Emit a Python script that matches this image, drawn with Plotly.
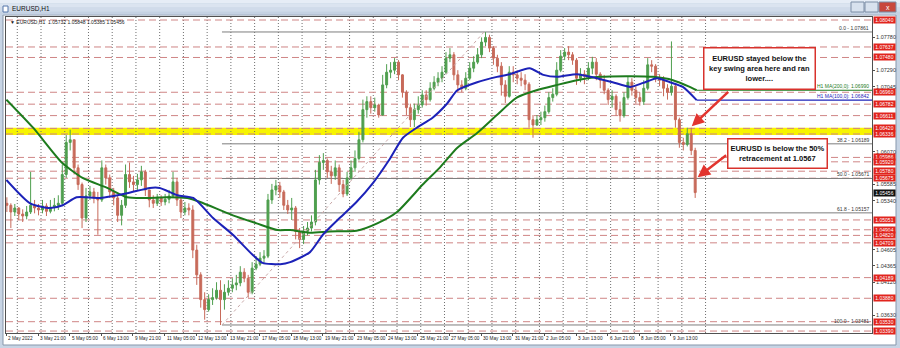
import plotly.graph_objects as go

# ---------------- data ----------------
window_title = "EURUSD,H1"
chart_caption = "\u25bc EURUSD,H1  1.05732 1.05848 1.05385 1.05456"

first_block_bar = 12      # trading-hour index (from 2 May 2022 00:00) of first candle block
block_len = 4             # each drawn candle aggregates 4 H1 bars
first_open = 1.0530

closes = [
    1.0527, 1.0517, 1.0523, 1.0514, 1.0511, 1.0517, 1.0527, 1.0523, 1.0520, 1.0526,
    1.0518, 1.0524, 1.0527, 1.0530, 1.0573, 1.0621, 1.0625, 1.0583, 1.0558, 1.0508,
    1.0541, 1.0547, 1.0538, 1.0535, 1.0583, 1.0568, 1.0547, 1.0538, 1.0512, 1.0527,
    1.0573, 1.0562, 1.0558, 1.0565, 1.0577, 1.0550, 1.0535, 1.0530, 1.0538, 1.0532,
    1.0536, 1.0541, 1.0562, 1.0535, 1.0517, 1.0523, 1.0520, 1.0460, 1.0423, 1.0386,
    1.0371, 1.0386, 1.0389, 1.0400, 1.0386, 1.0397, 1.0403, 1.0408, 1.0411, 1.0427,
    1.0418, 1.0397, 1.0433, 1.0439, 1.0448, 1.0451, 1.0535, 1.0550, 1.0556, 1.0547,
    1.0527, 1.0520, 1.0523, 1.0488, 1.0476, 1.0488, 1.0493, 1.0502, 1.0565, 1.0591,
    1.0594, 1.0577, 1.0571, 1.0583, 1.0558, 1.0544, 1.0568, 1.0583, 1.0597, 1.0625,
    1.0670, 1.0682, 1.0673, 1.0677, 1.0662, 1.0707, 1.0726, 1.0729, 1.0741, 1.0722,
    1.0696, 1.0673, 1.0655, 1.0670, 1.0677, 1.0692, 1.0685, 1.0702, 1.0711, 1.0717,
    1.0726, 1.0747, 1.0752, 1.0722, 1.0707, 1.0702, 1.0717, 1.0732, 1.0741, 1.0752,
    1.0771, 1.0778, 1.0762, 1.0747, 1.0735, 1.0707, 1.0690, 1.0726, 1.0722, 1.0717,
    1.0714, 1.0708, 1.0655, 1.0647, 1.0655, 1.0658, 1.0667, 1.0688, 1.0693, 1.0729,
    1.0750, 1.0756, 1.0752, 1.0744, 1.0717, 1.0723, 1.0720, 1.0732, 1.0741, 1.0723,
    1.0714, 1.0699, 1.0685, 1.0690, 1.0670, 1.0661, 1.0688, 1.0711, 1.0699, 1.0688,
    1.0682, 1.0702, 1.0737, 1.0735, 1.0717, 1.0714, 1.0702, 1.0696, 1.0705, 1.0655,
    1.0621, 1.0618, 1.0634, 1.0609, 1.0546,
]
highs = [
    1.0539, 1.0530, 1.0529, 1.0524, 1.0521, 1.0526, 1.0577, 1.0535, 1.0529, 1.0535,
    1.0530, 1.0535, 1.0538, 1.0542, 1.0588, 1.0632, 1.0640, 1.0625, 1.0588, 1.0561,
    1.0553, 1.0556, 1.0553, 1.0547, 1.0594, 1.0588, 1.0573, 1.0553, 1.0541, 1.0535,
    1.0588, 1.0591, 1.0571, 1.0574, 1.0586, 1.0580, 1.0550, 1.0542, 1.0544, 1.0542,
    1.0544, 1.0550, 1.0577, 1.0568, 1.0538, 1.0532, 1.0530, 1.0527, 1.0468, 1.0427,
    1.0397, 1.0394, 1.0403, 1.0412, 1.0415, 1.0409, 1.0415, 1.0418, 1.0423, 1.0436,
    1.0433, 1.0423, 1.0442, 1.0451, 1.0457, 1.0460, 1.0544, 1.0559, 1.0565, 1.0562,
    1.0550, 1.0535, 1.0538, 1.0526, 1.0493, 1.0496, 1.0502, 1.0512, 1.0580, 1.0602,
    1.0605, 1.0597, 1.0586, 1.0594, 1.0588, 1.0565, 1.0577, 1.0594, 1.0609, 1.0637,
    1.0685, 1.0690, 1.0690, 1.0688, 1.0679, 1.0722, 1.0738, 1.0741, 1.0747, 1.0744,
    1.0723, 1.0699, 1.0679, 1.0679, 1.0690, 1.0699, 1.0699, 1.0711, 1.0720, 1.0726,
    1.0735, 1.0756, 1.0762, 1.0756, 1.0729, 1.0714, 1.0726, 1.0741, 1.0750, 1.0762,
    1.0778, 1.0786, 1.0782, 1.0765, 1.0752, 1.0741, 1.0714, 1.0735, 1.0735, 1.0729,
    1.0726, 1.0723, 1.0711, 1.0662, 1.0662, 1.0667, 1.0676, 1.0696, 1.0702, 1.0741,
    1.0759, 1.0762, 1.0765, 1.0756, 1.0747, 1.0732, 1.0729, 1.0741, 1.0749, 1.0747,
    1.0726, 1.0722, 1.0702, 1.0699, 1.0693, 1.0682, 1.0696, 1.0720, 1.0717, 1.0705,
    1.0696, 1.0714, 1.0747, 1.0744, 1.0738, 1.0723, 1.0720, 1.0708, 1.0772, 1.0708,
    1.0658, 1.0628, 1.0643, 1.0643, 1.0613,
]
lows = [
    1.0517, 1.0493, 1.0511, 1.0505, 1.0502, 1.0506, 1.0514, 1.0515, 1.0512, 1.0515,
    1.0511, 1.0515, 1.0518, 1.0520, 1.0526, 1.0568, 1.0609, 1.0573, 1.0550, 1.0493,
    1.0502, 1.0535, 1.0530, 1.0483, 1.0532, 1.0558, 1.0538, 1.0527, 1.0502, 1.0497,
    1.0523, 1.0553, 1.0547, 1.0550, 1.0556, 1.0541, 1.0524, 1.0523, 1.0526, 1.0526,
    1.0527, 1.0530, 1.0538, 1.0526, 1.0508, 1.0512, 1.0512, 1.0448, 1.0408, 1.0374,
    1.0356, 1.0368, 1.0378, 1.0386, 1.0348, 1.0371, 1.0392, 1.0397, 1.0400, 1.0406,
    1.0412, 1.0389, 1.0394, 1.0430, 1.0436, 1.0442, 1.0448, 1.0529, 1.0542, 1.0538,
    1.0520, 1.0514, 1.0505, 1.0476, 1.0463, 1.0469, 1.0482, 1.0488, 1.0497, 1.0558,
    1.0580, 1.0568, 1.0559, 1.0565, 1.0547, 1.0539, 1.0541, 1.0565, 1.0577, 1.0594,
    1.0621, 1.0658, 1.0664, 1.0667, 1.0658, 1.0661, 1.0702, 1.0717, 1.0723, 1.0714,
    1.0688, 1.0662, 1.0644, 1.0644, 1.0664, 1.0673, 1.0676, 1.0682, 1.0699, 1.0705,
    1.0711, 1.0723, 1.0741, 1.0714, 1.0696, 1.0696, 1.0699, 1.0714, 1.0726, 1.0738,
    1.0747, 1.0765, 1.0756, 1.0737, 1.0726, 1.0691, 1.0680, 1.0688, 1.0711, 1.0708,
    1.0705, 1.0699, 1.0643, 1.0628, 1.0646, 1.0647, 1.0652, 1.0664, 1.0682, 1.0690,
    1.0726, 1.0744, 1.0744, 1.0737, 1.0707, 1.0711, 1.0708, 1.0714, 1.0723, 1.0714,
    1.0702, 1.0693, 1.0677, 1.0673, 1.0661, 1.0652, 1.0658, 1.0685, 1.0691, 1.0679,
    1.0676, 1.0677, 1.0699, 1.0726, 1.0711, 1.0705, 1.0690, 1.0685, 1.0691, 1.0643,
    1.0613, 1.0609, 1.0615, 1.0602, 1.0538,
]

ma100_bars = [13, 37, 57, 70, 84, 108, 135, 158, 168, 186, 202, 222, 242, 262, 272,
              290, 300, 320, 333, 350, 367, 384, 401, 414, 428, 444, 458, 469, 489, 509,
              522, 542, 556, 570, 590, 610, 626, 644, 657, 671, 684, 697, 711]
ma100_vals = [1.0565, 1.0530, 1.0523, 1.0527, 1.0539, 1.0538, 1.0545, 1.0553, 1.0553, 1.0542,
              1.0538, 1.0508, 1.0483, 1.0453, 1.0441, 1.0439, 1.0442, 1.0457, 1.0483, 1.0508,
              1.0532, 1.0561, 1.0597, 1.0628, 1.0643, 1.0658, 1.0678, 1.0699, 1.0711, 1.0719,
              1.0723, 1.0732, 1.0722, 1.0719, 1.0723, 1.0717, 1.0711, 1.0704, 1.0710, 1.0717,
              1.0711, 1.0704, 1.06842]
ma200_bars = [13, 40, 69, 90, 115, 135, 158, 175, 196, 209, 242, 266, 287, 300, 320,
              340, 367, 388, 408, 434, 451, 469, 489, 509, 529, 549, 570, 590, 613, 644,
              667, 687, 704, 711]
ma200_vals = [1.0685, 1.0643, 1.0591, 1.0568, 1.0553, 1.0539, 1.0538, 1.0539, 1.0538, 1.0532,
              1.0512, 1.0500, 1.0490, 1.0490, 1.0486, 1.0488, 1.0489, 1.0500, 1.0517, 1.0558,
              1.0583, 1.0613, 1.0635, 1.0662, 1.0688, 1.0699, 1.0707, 1.0714, 1.0719, 1.0720,
              1.0719, 1.0714, 1.0704, 1.06990]
ma100_label = "H1 MA(100,0): 1.06842"
ma200_label = "H1 MA(200,0): 1.06990"

level_prices = [1.08040, 1.07637, 1.07480, 1.06960, 1.06782, 1.06611, 1.06420, 1.06336,
                1.05986, 1.05920, 1.05780, 1.05675, 1.05051, 1.04904, 1.04820, 1.04709,
                1.04189, 1.03880, 1.03530, 1.03390]
current_price = 1.05456
swing_zone = [1.06320, 1.06430]

fib_pcts = ["0.0", "38.2", "50.0", "61.8", "100.0"]
fib_prices = [1.07861, 1.06189, 1.05671, 1.05157, 1.03481]
fib_low_bar = 231
fib_high_bar = 496

# price-scale labels that are visible (the rest sit under the red level tags)
price_ticks = [1.07780, 1.07290, 1.07045, 1.06070, 1.05585, 1.05340, 1.04605, 1.04365,
               1.04120, 1.03630]

time_labels = ["2 May 2022", "3 May 21:00", "5 May 05:00", "6 May 13:00", "9 May 21:00",
               "11 May 05:00", "12 May 13:00", "13 May 21:00", "17 May 05:00", "18 May 13:00",
               "19 May 21:00", "23 May 05:00", "24 May 13:00", "25 May 21:00", "27 May 05:00",
               "30 May 13:00", "31 May 21:00", "2 Jun 05:00", "3 Jun 13:00", "6 Jun 21:00",
               "8 Jun 05:00", "9 Jun 13:00"]
time_label_bars = [13, 45, 77, 109, 141, 173, 205, 237, 269, 301, 333, 365, 397, 429, 461,
                   493, 525, 557, 589, 621, 653, 685]
day_separator_bars = [24 * d for d in range(1, 31)]

callout_1 = "EURUSD stayed below the<br>key swing area here and ran<br>lower...."
callout_2 = "EURUSD is below the 50%<br>retracement at 1.0567"

# ---------------- geometry / style ----------------
W, H = 900, 348
PL, PR, PT, PB = 6, 872, 17, 333          # plot box in pixels
X_MIN, X_MAX = 12.6, 888.3
Y_MIN, Y_MAX = 1.03361, 1.08085
FONT = "Liberation Sans, Arial, sans-serif"
UP, DN = "#4f9f4f", "#c76a5a"
LEVEL_CLR = "#cf8585"
FRAME = "#c7d4e4"


def pxp(x):
    return (x - PL) / (PR - PL)


def pyp(y):
    return (PB - y) / (PB - PT)


cx = [first_block_bar + block_len * i + (block_len - 1) / 2 for i in range(len(closes))]
opens = [first_open] + closes[:-1]

fig = go.Figure()

fig.add_trace(go.Candlestick(
    x=cx, open=opens, high=highs, low=lows, close=closes,
    increasing=dict(line=dict(color=UP, width=1), fillcolor=UP),
    decreasing=dict(line=dict(color=DN, width=1), fillcolor=DN),
    whiskerwidth=0, hoverinfo="skip"))

# fib diagonal
fig.add_trace(go.Scatter(x=[fib_low_bar, fib_high_bar], y=[fib_prices[-1], fib_prices[0]],
                         mode="lines", line=dict(color="#c9a9a9", width=1, dash="dot"),
                         hoverinfo="skip"))

fig.add_trace(go.Scatter(x=ma200_bars, y=ma200_vals, mode="lines",
                         line=dict(color="#1d7b1d", width=2, shape="spline", smoothing=0.6),
                         hoverinfo="skip"))
fig.add_trace(go.Scatter(x=ma100_bars, y=ma100_vals, mode="lines",
                         line=dict(color="#1c22b8", width=2, shape="spline", smoothing=0.6),
                         hoverinfo="skip"))
fig.add_trace(go.Scatter(x=[ma200_bars[-1], X_MAX], y=[ma200_vals[-1], ma200_vals[-1]],
                         mode="lines", line=dict(color="#1d7b1d", width=1.2), hoverinfo="skip"))
fig.add_trace(go.Scatter(x=[ma100_bars[-1], X_MAX], y=[ma100_vals[-1], ma100_vals[-1]],
                         mode="lines", line=dict(color="#1c22b8", width=1.2), hoverinfo="skip"))

shapes = []
# window frame
shapes.append(dict(type="rect", xref="paper", yref="paper", x0=pxp(3), x1=pxp(896),
                   y0=pyp(345), y1=pyp(15), fillcolor="white", line=dict(color="#8797ab", width=1),
                   layer="below"))
title_cols = ["#e6edf6", "#dbe4f0", "#d0dbea", "#c5d2e3"]
for k, c in enumerate(title_cols):
    shapes.append(dict(type="rect", xref="paper", yref="paper", x0=pxp(0), x1=pxp(900),
                       y0=pyp(4 * (k + 1) - 0.5 if k < 3 else 14.5), y1=pyp(4 * k),
                       fillcolor=c, line=dict(width=0), layer="below"))
# icon + window buttons
shapes.append(dict(type="rect", xref="paper", yref="paper", x0=pxp(3), x1=pxp(8),
                   y0=pyp(12), y1=pyp(6), fillcolor="white", line=dict(color="#5577aa", width=1)))
for (a, b, col) in [(851, 864, "#d8e2ee"), (865, 878, "#d8e2ee"), (879, 896, "#c8473c")]:
    shapes.append(dict(type="rect", xref="paper", yref="paper", x0=pxp(a), x1=pxp(b),
                       y0=pyp(12), y1=pyp(2), fillcolor=col, line=dict(color="#7d8ea6", width=1)))

# yellow swing zone
shapes.append(dict(type="rect", xref="paper", yref="y", x0=0, x1=1,
                   y0=swing_zone[0], y1=swing_zone[1], fillcolor="#f7f400",
                   line=dict(width=0), layer="below"))
# day separators
for b in day_separator_bars:
    shapes.append(dict(type="line", xref="x", yref="paper", x0=b, x1=b, y0=0, y1=1,
                       line=dict(color="#6f6f6f", width=1, dash="1px,2px"), layer="below"))
# horizontal levels
for p in level_prices:
    shapes.append(dict(type="line", xref="paper", yref="y", x0=0, x1=1, y0=p, y1=p,
                       line=dict(color=LEVEL_CLR, width=1, dash="7px,4px"), layer="below"))
# fibonacci levels
for p in fib_prices:
    shapes.append(dict(type="line", xref="x", yref="y", x0=fib_low_bar, x1=X_MAX, y0=p, y1=p,
                       line=dict(color="#7d7d7d", width=1), layer="below"))

ann = []
ann.append(dict(text=window_title, xref="paper", yref="paper", x=pxp(10), y=pyp(8),
                xanchor="left", yanchor="middle", showarrow=False,
                font=dict(family=FONT, size=6.5, color="#111")))
ann.append(dict(text="x", xref="paper", yref="paper", x=pxp(887.5), y=pyp(7),
                xanchor="center", yanchor="middle", showarrow=False,
                font=dict(family=FONT, size=7, color="white")))
ann.append(dict(text=chart_caption, xref="paper", yref="paper", x=pxp(8), y=pyp(22),
                xanchor="left", yanchor="middle", showarrow=False,
                font=dict(family=FONT, size=5, color="#222")))

for t, b in zip(time_labels, time_label_bars):
    ann.append(dict(text=t, xref="x", yref="paper", x=b, y=0, xanchor="left", yanchor="top",
                    yshift=-1, showarrow=False, font=dict(family=FONT, size=4.7, color="#222")))

for p in level_prices:
    ann.append(dict(text=f"{p:.5f}", xref="paper", yref="y", x=1, y=p, xanchor="left",
                    yanchor="middle", xshift=1, showarrow=False, bgcolor="#e1241d",
                    width=21, height=6, borderpad=0,
                    font=dict(family=FONT, size=5, color="white")))
ann.append(dict(text=f"{current_price:.5f}", xref="paper", yref="y", x=1, y=current_price,
                xanchor="left", yanchor="middle", xshift=1, showarrow=False, bgcolor="#111",
                width=21, height=6, borderpad=0, font=dict(family=FONT, size=5, color="white")))

for pct, p in zip(fib_pcts, fib_prices):
    ann.append(dict(text=f"{pct} - {p:.5f}", xref="paper", yref="y", x=1, y=p,
                    xanchor="right", yanchor="bottom", xshift=-1, yshift=-1, showarrow=False,
                    font=dict(family=FONT, size=5, color="#333")))

ann.append(dict(text=ma200_label, xref="paper", yref="y", x=1, y=ma200_vals[-1],
                xanchor="right", yanchor="bottom", xshift=-1, yshift=-1, showarrow=False,
                font=dict(family=FONT, size=5, color="#1d7b1d")))
ann.append(dict(text=ma100_label, xref="paper", yref="y", x=1, y=ma100_vals[-1],
                xanchor="right", yanchor="bottom", xshift=-1, yshift=-1, showarrow=False,
                font=dict(family=FONT, size=5, color="#1c22b8")))

# arrows
ann.append(dict(text="", xref="x", yref="y", x=706, y=swing_zone[1] + 0.0002, ax=38, ay=-36,
                showarrow=True, arrowhead=2, arrowsize=1, arrowwidth=2.5, arrowcolor="#e2352f",
                standoff=0))
ann.append(dict(text="", xref="x", yref="y", x=712, y=fib_prices[2] + 0.0002, ax=30, ay=-23,
                showarrow=True, arrowhead=2, arrowsize=1, arrowwidth=2.5, arrowcolor="#e2352f",
                standoff=0))
# callout boxes
ann.append(dict(text="<b>" + callout_1 + "</b>", xref="paper", yref="paper", x=pxp(759),
                y=pyp(68), xanchor="center", yanchor="middle", showarrow=False,
                bgcolor="white", bordercolor="#d8322c", borderwidth=1.5, borderpad=1,
                width=108, height=38, align="center",
                font=dict(family=FONT, size=7.5, color="#111")))
ann.append(dict(text="<b>" + callout_2 + "</b>", xref="paper", yref="paper", x=pxp(777),
                y=pyp(153), xanchor="center", yanchor="middle", showarrow=False,
                bgcolor="white", bordercolor="#d8322c", borderwidth=1.5, borderpad=1,
                width=96, height=26, align="center",
                font=dict(family=FONT, size=7.5, color="#111")))

fig.update_layout(
    width=W, height=H, margin=dict(l=PL, r=W - PR, t=PT, b=H - PB),
    paper_bgcolor=FRAME, plot_bgcolor="white", showlegend=False,
    shapes=shapes, annotations=ann,
    xaxis=dict(range=[X_MIN, X_MAX], showgrid=False, zeroline=False, showline=True,
               mirror=True, linecolor="#505050", linewidth=1, tickmode="array",
               tickvals=time_label_bars, ticks="outside", ticklen=2, tickcolor="#505050",
               showticklabels=False, rangeslider=dict(visible=False), fixedrange=True,
               automargin=False),
    yaxis=dict(range=[Y_MIN, Y_MAX], side="right", showgrid=False, zeroline=False,
               showline=True, mirror=True, linecolor="#505050", linewidth=1,
               tickmode="array", tickvals=price_ticks, tickformat=".5f", ticks="outside",
               ticklen=2, tickcolor="#505050",
               tickfont=dict(family=FONT, size=5.5, color="#333"), fixedrange=True,
               automargin=False),
)

fig.write_html("out.html")
